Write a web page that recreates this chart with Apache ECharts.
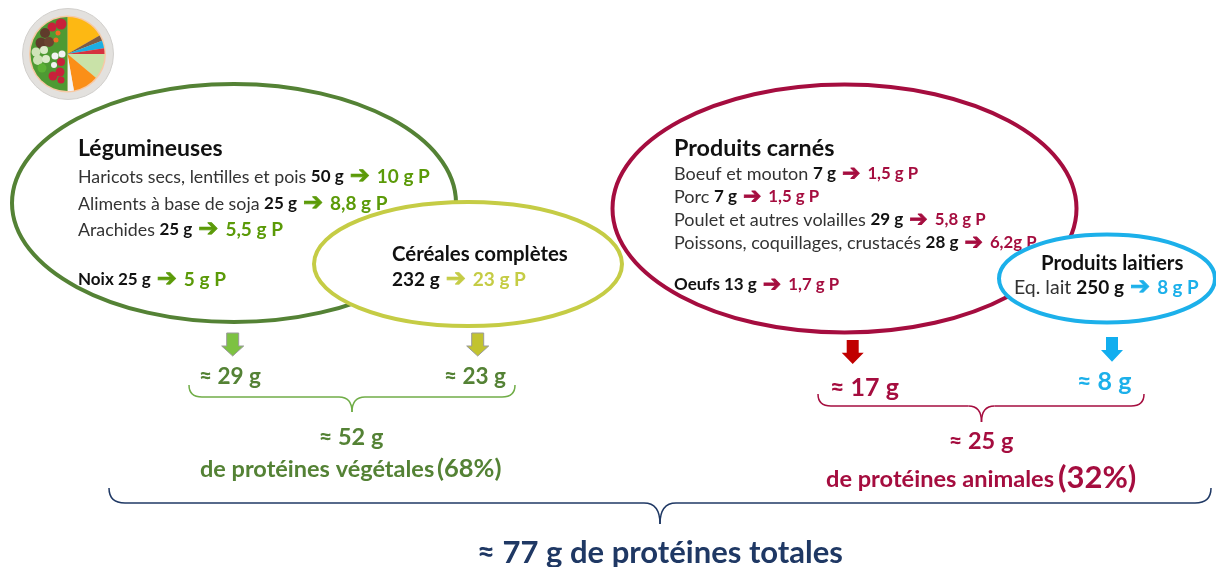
<!DOCTYPE html>
<html>
<head>
<meta charset="utf-8">
<script src="https://cdn.jsdelivr.net/npm/echarts@6/dist/echarts.min.js"></script>
<style>
  html, body { margin: 0; padding: 0; background: #fff; }
  #main { width: 1216px; height: 567px; }
</style>
</head>
<body>
<div id="main"></div>
<script>
// assiette (en degres)
const plateNames = ['Féculents', 'Viande', 'Poisson', 'Lait', 'Légumineuses', 'Céréales', 'Divers', 'Légumes']
const plateShares = [60, 9, 12, 9, 40, 40, 10, 180]
const plateColors = ['#FDB813', '#7B5B45', '#1BAEE3', '#D5323F', '#C9E2A8', '#FB8F17', '#F4F4F4', '#4E9A33']

// legumineuses
const legumeNames = ['Haricots secs, lentilles et pois', 'Aliments à base de soja', 'Arachides']
const legumeGrams = ['50 g', '25 g', '25 g']
const legumeProtein = ['10 g P', '8,8 g P', '5,5 g P']
const nutsRow = ['Noix 25 g', '5 g P']

// cereales
const cerealRow = ['232 g', '23 g P']

// produits carnes
const meatNames = ['Boeuf et mouton', 'Porc', 'Poulet et autres volailles', 'Poissons, coquillages, crustacés']
const meatGrams = ['7 g', '7 g', '29 g', '28 g']
const meatProtein = ['1,5 g P', '1,5 g P', '5,8 g P', '6,2g P']
const eggsRow = ['Oeufs 13 g', '1,7 g P']

// laitiers
const dairyRow = ['Eq. lait', '250 g', '8 g P']

// totaux
const subTotals = ['≈ 29 g', '≈ 23 g', '≈ 17 g', '≈ 8 g']
const groupTotals = ['≈ 52 g', '≈ 25 g']
const groupShares = ['(68%)', '(32%)']
const grandTotal = '≈ 77 g de protéines totales'

const FONT = 'Lato, "Noto Sans", sans-serif'
const INK = '#333333'

const chart = echarts.init(document.getElementById('main'), null, { renderer: 'canvas' })

function ellipse(cx, cy, rx, ry, color, z) {
  return {
    type: 'ellipse', z: z,
    shape: { cx: cx, cy: cy, rx: rx, ry: ry },
    style: { fill: '#fff', stroke: color, lineWidth: 4 }
  }
}

// une ligne de texte, y = milieu de la ligne
// sizes = [nom, quantite, fleche, proteines]
function row(x, y, parts, sizes, color, z) {
  const text = parts.map(function (p) { return '{' + p[0] + '|' + p[1] + '}' }).join('')
  return {
    type: 'text', z: z, x: x, y: y,
    style: {
      text: text,
      verticalAlign: 'middle',
      font: sizes[0] + 'px ' + FONT,
      rich: {
        n: { fontFamily: FONT, fontSize: sizes[0], fill: INK },
        b: { fontFamily: FONT, fontSize: sizes[1], fontWeight: 'bold', fill: '#111' },
        a: {
          fontFamily: 'DejaVu Sans', fontSize: sizes[2], fontWeight: 'bold', fill: color,
          stroke: color, lineWidth: 0.8, padding: [0, 7, 0, 6]
        },
        p: { fontFamily: FONT, fontSize: sizes[3], fontWeight: 'bold', fill: color }
      }
    }
  }
}

function label(x, y, text, size, color, align, z) {
  return {
    type: 'text', z: z || 20, x: x, y: y,
    style: {
      text: text, fill: color,
      font: 'bold ' + size + 'px ' + FONT,
      align: align || 'left', verticalAlign: 'middle'
    }
  }
}

function downArrow(cx, top, neck, bottom, fill, stroke) {
  const hw = 11, sw = 6
  return {
    type: 'polygon', z: 5,
    shape: { points: [[cx - sw, top], [cx + sw, top], [cx + sw, neck], [cx + hw, neck], [cx, bottom], [cx - hw, neck], [cx - sw, neck]] },
    style: { fill: fill, stroke: stroke, lineWidth: stroke ? 1 : 0 }
  }
}

function brace(x0, x1, xm, top, bar, tip, r, color, width) {
  const st = { stroke: color, lineWidth: width, fill: null }
  const curve = function (ax, ay, cx, cy, bx, by) {
    return { type: 'bezierCurve', z: 5, shape: { x1: ax, y1: ay, x2: bx, y2: by, cpx1: cx, cpy1: cy }, style: st }
  }
  const line = function (ax, bx) {
    return { type: 'line', z: 5, shape: { x1: ax, y1: bar, x2: bx, y2: bar }, style: st }
  }
  return [
    curve(x0, top, x0, bar, x0 + r, bar),
    line(x0 + r, xm - r),
    curve(xm - r, bar, xm, bar, xm, tip),
    curve(xm, tip, xm, bar, xm + r, bar),
    line(xm + r, x1 - r),
    curve(x1 - r, bar, x1, bar, x1, top)
  ]
}

function blob(cx, cy, r, fill) {
  return { type: 'circle', z: 12, shape: { cx: cx, cy: cy, r: r }, style: { fill: fill } }
}

const GREEN = '#5B9A08'
const DGREEN = '#548235'
const OLIVE = '#C5CC45'
const WINE = '#A50D3F'
const SKY = '#1CB0EA'

const LEG = [17.8, 17, 24, 19]
const MEAT = [18, 17, 22, 16.8]
const CER = [19, 19, 24, 19]
const DAIRY = [19.5, 19, 24, 18.8]

const elements = [
  // assiette
  { type: 'circle', z: 0, shape: { cx: 68, cy: 54, r: 45.5 }, style: { fill: '#E3E1DE', stroke: '#D2D0CD', lineWidth: 1 } },
  { type: 'circle', z: 0, shape: { cx: 67.5, cy: 54, r: 38.5 }, style: { fill: '#F7C9A5' } },
  // legumes sur la moitie gauche de l'assiette
  blob(61, 24, 5.5, '#C8213A'), blob(52, 27, 4.5, '#C8213A'), blob(45, 33, 5, '#5F3B2B'),
  blob(41, 43, 5.5, '#5F3B2B'), blob(49, 42, 5, '#6B4431'), blob(58, 33, 2.5, '#EF6C23'),
  blob(56, 40, 2.5, '#EF6C23'), blob(36, 52, 4.5, '#CFE3B8'), blob(44, 50, 4, '#DCEBCB'),
  blob(38, 60, 5, '#CFE3B8'), blob(46, 59, 4, '#DCEBCB'), blob(42, 68, 4.5, '#5CB135'),
  blob(55, 56, 3.5, '#F2F2F2'), blob(62, 54, 3.5, '#F2F2F2'), blob(61, 62, 4, '#C8213A'),
  blob(54, 65, 3, '#F2F2F2'), blob(60, 72, 4.5, '#C8213A'), blob(53, 76, 4.5, '#C8213A'),
  blob(61, 80, 3.5, '#C8213A'),

  // legumineuses
  ellipse(234, 203, 222, 119, DGREEN, 1),
  label(78, 149, 'Légumineuses', 23, '#111', 'left', 3),
  row(78, 177, [['n', legumeNames[0] + ' '], ['b', legumeGrams[0]], ['a', '➔'], ['p', legumeProtein[0]]], LEG, GREEN, 3),
  row(78, 204, [['n', legumeNames[1] + ' '], ['b', legumeGrams[1]], ['a', '➔'], ['p', legumeProtein[1]]], LEG, GREEN, 3),
  row(78, 230, [['n', legumeNames[2] + ' '], ['b', legumeGrams[2]], ['a', '➔'], ['p', legumeProtein[2]]], LEG, GREEN, 3),
  row(78, 280, [['b', nutsRow[0]], ['a', '➔'], ['p', nutsRow[1]]], LEG, GREEN, 3),

  // cereales
  ellipse(468, 264, 154, 62, OLIVE, 6),
  label(392, 254, 'Céréales complètes', 20.4, '#111', 'left', 8),
  row(392, 280, [['b', cerealRow[0]], ['a', '➔'], ['p', cerealRow[1]]], CER, OLIVE, 8),

  // produits carnes
  ellipse(844.5, 208.5, 232, 124, WINE, 1),
  label(674, 148, 'Produits carnés', 23.3, '#111', 'left', 3),
  row(674, 174, [['n', meatNames[0] + ' '], ['b', meatGrams[0]], ['a', '➔'], ['p', meatProtein[0]]], MEAT, WINE, 3),
  row(674, 197, [['n', meatNames[1] + ' '], ['b', meatGrams[1]], ['a', '➔'], ['p', meatProtein[1]]], MEAT, WINE, 3),
  row(674, 220, [['n', meatNames[2] + ' '], ['b', meatGrams[2]], ['a', '➔'], ['p', meatProtein[2]]], MEAT, WINE, 3),
  row(674, 243, [['n', meatNames[3] + ' '], ['b', meatGrams[3]], ['a', '➔'], ['p', meatProtein[3]]], MEAT, WINE, 3),
  row(674, 285, [['b', eggsRow[0]], ['a', '➔'], ['p', eggsRow[1]]], MEAT, WINE, 3),

  // laitiers
  ellipse(1107, 278.5, 108, 44, SKY, 6),
  label(1041, 263, 'Produits laitiers', 20.4, '#111', 'left', 8),
  row(1014, 288, [['n', dairyRow[0] + ' '], ['b', dairyRow[1]], ['a', '➔'], ['p', dairyRow[2]]], DAIRY, SKY, 8),

  // fleches
  downArrow(232.7, 333, 346, 356, '#7DC242', '#9A9A9A'),
  downArrow(477.7, 333, 346, 356, '#C2C32F', '#9A9A9A'),
  downArrow(852.7, 340, 352.7, 364, '#C00000'),
  downArrow(1112, 337, 350, 361.7, '#12AEEF'),

  // sous-totaux
  label(199, 377, subTotals[0], 22.5, DGREEN),
  label(444, 377, subTotals[1], 22.5, DGREEN),
  label(830, 388, subTotals[2], 25, WINE),
  label(1077, 382, subTotals[3], 25, SKY),

  ...brace(189, 515, 352, 385, 397, 412, 13, '#70AD47', 1.5),
  ...brace(818, 1144, 981.5, 394, 406, 422, 13, WINE, 1.5),
  ...brace(109, 1211, 660, 488, 503, 524, 16, '#1F3864', 1.5),

  label(351, 437, groupTotals[0], 23.5, DGREEN, 'center'),
  label(200, 469, 'de protéines végétales', 23.5, DGREEN),
  label(437, 469, groupShares[0], 25.5, DGREEN),
  label(981, 441, groupTotals[1], 23.5, WINE, 'center'),
  label(826, 479, 'de protéines animales', 23.6, WINE),
  label(1058, 478, groupShares[1], 31, WINE),
  label(660, 553, grandTotal, 31, '#1F3864', 'center')
]

chart.setOption({
  animation: false,
  textStyle: { fontFamily: FONT },
  series: [
    {
      type: 'pie',
      silent: true,
      center: [67.5, 54],
      radius: [0, 37],
      startAngle: 90,
      z: 1,
      label: { show: false },
      labelLine: { show: false },
      itemStyle: { borderWidth: 0 },
      data: plateNames.map(function (name, i) {
        return { name: name, value: plateShares[i], itemStyle: { color: plateColors[i] } }
      })
    }
  ],
  graphic: { elements: elements }
})
</script>
</body>
</html>
